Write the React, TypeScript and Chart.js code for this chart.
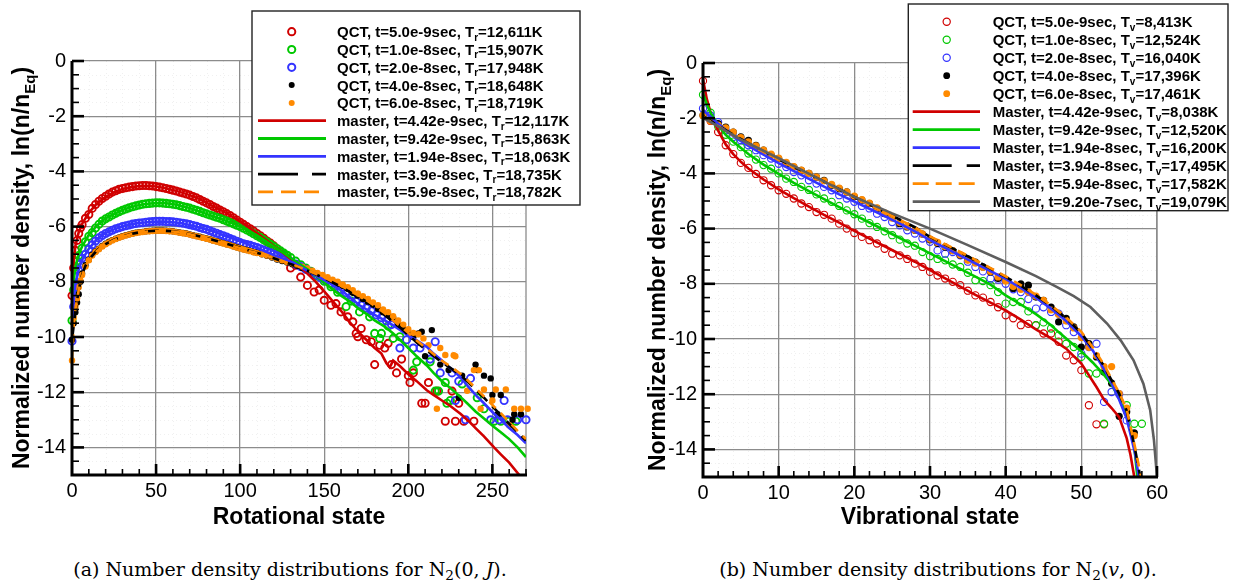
import React, { useEffect, useRef } from "react";
import { Chart, registerables } from "chart.js";

Chart.register(...registerables);

type P = [number, number][];

// ---------------- (a) Rotational state, N2(0,J) ----------------
const rotXTicks = [0, 50, 100, 150, 200, 250];
const yTicks = [-14, -12, -10, -8, -6, -4, -2, 0];
const vibXTicks = [0, 10, 20, 30, 40, 50, 60];

const rotQctRed: P = [[0,-8.5],[1,-7.5],[2,-6.86],[3,-6.5],[4,-6.25],[5,-6.05],[6,-5.93],[8,-5.7],[10,-5.56],[12,-5.34],[14,-5.2],[16,-5.08],[18,-4.98],[20,-4.9],[22,-4.82],[24,-4.75],[26,-4.7],[28,-4.65],[30,-4.62],[32,-4.59],[34,-4.57],[36,-4.55],[38,-4.53],[40,-4.52],[42,-4.51],[44,-4.51],[46,-4.52],[48,-4.53],[50,-4.55],[52,-4.57],[54,-4.59],[56,-4.62],[58,-4.65],[60,-4.68],[62,-4.71],[64,-4.75],[66,-4.78],[68,-4.82],[70,-4.86],[72,-4.91],[74,-4.96],[76,-5.02],[78,-5.08],[80,-5.14],[82,-5.2],[84,-5.27],[86,-5.33],[88,-5.4],[90,-5.46],[92,-5.53],[94,-5.6],[96,-5.68],[98,-5.76],[100,-5.84],[102,-5.92],[104,-6.0],[106,-6.08],[108,-6.16],[110,-6.25],[112,-6.33],[114,-6.42],[116,-6.52],[118,-6.6],[120,-6.7],[122,-6.8],[124,-6.9],[126,-7.0],[128,-7.15],[130,-7.5],[133,-7.4],[136,-7.83],[140,-8.13],[144,-8.37],[147,-8.3],[150,-8.67],[154,-8.85],[157,-8.79],[160,-9.09],[164,-9.27],[167,-9.45],[169,-9.87],[172,-9.69],[170,-9.99],[175,-10.1],[178,-10.17],[180,-11.0],[183,-10.3],[186,-10.4],[188,-10.23],[190,-11.0],[193,-11.3],[196,-10.8],[200,-11.4],[201,-11.65],[203,-11.3],[208,-12.4],[210,-12.4],[212,-11.65],[217,-11.96],[222,-13.05],[226,-11.96],[228,-13.05],[230,-12.4],[233,-13.05],[239,-13.05]];

const rotQctGreen: P = [[0,-9.4],[1,-8.3],[2,-7.46],[3,-7.25],[4,-7.05],[6,-6.78],[8,-6.55],[10,-6.35],[12,-6.22],[14,-6.05],[16,-5.92],[18,-5.8],[20,-5.72],[22,-5.65],[24,-5.58],[26,-5.52],[28,-5.46],[30,-5.41],[32,-5.36],[34,-5.32],[36,-5.28],[38,-5.25],[40,-5.22],[42,-5.19],[44,-5.17],[46,-5.16],[48,-5.15],[50,-5.14],[52,-5.14],[54,-5.15],[56,-5.16],[58,-5.17],[60,-5.19],[62,-5.21],[64,-5.24],[66,-5.27],[68,-5.3],[70,-5.33],[72,-5.37],[74,-5.41],[76,-5.45],[78,-5.5],[80,-5.54],[82,-5.58],[84,-5.62],[86,-5.66],[88,-5.7],[90,-5.75],[92,-5.8],[94,-5.85],[96,-5.9],[98,-5.95],[100,-6.0],[102,-6.06],[104,-6.12],[106,-6.19],[108,-6.26],[110,-6.33],[112,-6.4],[114,-6.48],[116,-6.56],[118,-6.64],[120,-6.72],[122,-6.8],[124,-6.88],[126,-6.96],[128,-7.04],[130,-7.12],[133,-7.25],[136,-7.38],[139,-7.5],[142,-7.62],[146,-7.8],[150,-7.98],[154,-8.18],[158,-8.38],[163,-8.9],[166,-8.7],[171,-9.09],[177,-9.27],[180,-9.87],[184,-9.87],[183,-10.05],[188,-9.6],[191,-10.05],[195,-9.99],[203,-11.2],[205,-10.9],[213,-10.9],[216,-11.96],[218,-11.96],[222,-11.65],[223,-12.4],[225,-12.3],[232,-11.7],[241,-12.2],[245,-12.6],[251,-13.05],[255,-13.05],[260,-13.05],[264,-13.05]];

const rotQctBlue: P = [[0,-10.15],[1,-8.9],[2,-8.2],[3,-7.8],[4,-7.6],[5,-7.35],[6,-7.15],[8,-7.0],[10,-6.82],[12,-6.66],[14,-6.52],[16,-6.41],[18,-6.32],[20,-6.25],[22,-6.19],[24,-6.13],[26,-6.08],[28,-6.04],[30,-6.0],[32,-5.97],[34,-5.94],[36,-5.91],[38,-5.89],[40,-5.87],[42,-5.86],[44,-5.84],[46,-5.83],[48,-5.82],[50,-5.81],[52,-5.81],[54,-5.81],[56,-5.82],[58,-5.82],[60,-5.83],[62,-5.84],[64,-5.86],[66,-5.88],[68,-5.9],[70,-5.93],[72,-5.96],[74,-5.99],[76,-6.03],[78,-6.07],[80,-6.1],[82,-6.15],[84,-6.2],[86,-6.24],[88,-6.29],[90,-6.33],[92,-6.38],[94,-6.43],[96,-6.48],[98,-6.53],[100,-6.58],[102,-6.62],[104,-6.65],[106,-6.68],[108,-6.72],[110,-6.76],[112,-6.8],[114,-6.85],[116,-6.9],[118,-6.95],[120,-7.0],[122,-7.06],[124,-7.12],[126,-7.18],[128,-7.23],[130,-7.27],[133,-7.36],[136,-7.45],[139,-7.55],[142,-7.65],[145,-7.75],[148,-7.85],[151,-7.95],[154,-8.05],[157,-8.15],[160,-8.28],[163,-8.4],[166,-8.55],[169,-8.72],[172,-8.85],[175,-8.95],[178,-9.05],[181,-9.2],[184,-9.3],[187,-9.42],[190,-9.55],[195,-10.4],[199,-10.1],[203,-10.4],[207,-10.4],[213,-10.8],[216,-10.17],[219,-11.3],[226,-11.3],[228,-12.3],[230,-11.6],[234,-13.0],[237,-11.5],[249,-13.0],[254,-13.0],[257,-12.3],[259,-13.0],[265,-13.0],[270,-13.0]];

const rotQctBlack: P = [[0,-10.1],[1,-9.5],[2,-9.1],[3,-8.75],[4,-8.45],[5,-8.0],[6,-7.7],[8,-7.4],[10,-7.2],[12,-7.02],[14,-6.9],[16,-6.8],[18,-6.7],[20,-6.62],[22,-6.55],[24,-6.49],[26,-6.44],[28,-6.39],[30,-6.35],[32,-6.31],[34,-6.28],[36,-6.25],[38,-6.22],[40,-6.2],[42,-6.19],[44,-6.17],[46,-6.16],[48,-6.15],[50,-6.14],[52,-6.14],[54,-6.14],[56,-6.15],[58,-6.16],[60,-6.17],[62,-6.19],[64,-6.21],[66,-6.23],[68,-6.25],[70,-6.28],[72,-6.31],[74,-6.34],[76,-6.37],[78,-6.4],[80,-6.43],[82,-6.46],[84,-6.5],[86,-6.53],[88,-6.57],[90,-6.6],[92,-6.64],[94,-6.67],[96,-6.71],[98,-6.75],[100,-6.78],[102,-6.82],[104,-6.85],[106,-6.88],[108,-6.92],[110,-6.95],[113,-7.0],[116,-7.06],[119,-7.12],[122,-7.19],[125,-7.25],[128,-7.3],[131,-7.36],[134,-7.42],[137,-7.5],[140,-7.57],[143,-7.65],[146,-7.73],[149,-7.82],[152,-7.9],[155,-7.98],[158,-8.07],[161,-8.15],[164,-8.25],[167,-8.4],[170,-8.5],[173,-8.62],[176,-8.72],[179,-8.82],[182,-8.98],[185,-9.1],[188,-9.2],[191,-9.3],[194,-9.55],[197,-9.7],[200,-9.85],[203,-10.0],[206,-9.87],[208,-9.81],[210,-10.7],[214,-9.75],[219,-11.0],[224,-11.2],[230,-12.2],[232,-11.4],[240,-11.0],[241,-11.2],[245,-11.4],[249,-11.5],[250,-12.1],[253,-12.8],[255,-12.1],[262,-13.0],[263,-12.8],[267,-12.8]];

const rotQctOrange: P = [[0,-10.85],[1,-9.3],[2,-8.9],[3,-8.6],[4,-8.2],[5,-7.95],[6,-7.75],[8,-7.45],[10,-7.22],[12,-7.05],[14,-6.92],[16,-6.82],[18,-6.72],[20,-6.64],[22,-6.57],[24,-6.5],[26,-6.45],[28,-6.4],[30,-6.36],[32,-6.32],[34,-6.29],[36,-6.26],[38,-6.23],[40,-6.21],[42,-6.2],[44,-6.18],[46,-6.17],[48,-6.16],[50,-6.15],[52,-6.15],[54,-6.15],[56,-6.16],[58,-6.17],[60,-6.18],[62,-6.2],[64,-6.22],[66,-6.24],[68,-6.26],[70,-6.29],[72,-6.32],[74,-6.35],[76,-6.38],[78,-6.41],[80,-6.44],[82,-6.47],[84,-6.51],[86,-6.54],[88,-6.58],[90,-6.61],[92,-6.65],[94,-6.68],[96,-6.72],[98,-6.76],[100,-6.79],[102,-6.83],[104,-6.86],[106,-6.89],[108,-6.93],[110,-6.96],[113,-7.0],[116,-7.05],[119,-7.1],[122,-7.17],[125,-7.22],[128,-7.28],[131,-7.33],[134,-7.38],[137,-7.45],[140,-7.52],[143,-7.6],[146,-7.68],[149,-7.75],[152,-7.83],[155,-7.92],[158,-8.0],[161,-8.1],[164,-8.2],[167,-8.3],[170,-8.42],[173,-8.52],[176,-8.62],[179,-8.75],[182,-8.85],[185,-9.0],[188,-9.1],[191,-9.25],[194,-9.4],[197,-9.55],[200,-9.72],[203,-9.85],[206,-9.9],[209,-10.05],[212,-10.3],[217,-12.6],[219,-10.4],[222,-10.65],[227,-10.66],[228,-10.7],[235,-11.95],[239,-11.2],[242,-11.2],[243,-12.6],[245,-11.9],[250,-12.3],[252,-11.9],[258,-11.9],[260,-13.2],[263,-12.6],[267,-12.6],[271,-12.6]];

const rotMasterRed: P = [[0,-8.5],[1,-7.3],[2,-6.7],[4,-6.2],[6,-5.9],[10,-5.5],[15,-5.15],[20,-4.92],[25,-4.75],[30,-4.64],[35,-4.57],[40,-4.53],[45,-4.52],[50,-4.55],[55,-4.6],[60,-4.67],[65,-4.76],[70,-4.86],[75,-4.98],[80,-5.13],[85,-5.3],[90,-5.45],[95,-5.63],[100,-5.82],[105,-6.02],[110,-6.24],[115,-6.47],[120,-6.7],[125,-6.93],[130,-7.17],[135,-7.42],[140,-7.7],[145,-8.0],[150,-8.35],[155,-8.7],[160,-9.05],[165,-9.45],[170,-9.8],[175,-10.1],[180,-10.4],[184,-10.6],[187,-10.95],[189,-11.1],[191,-10.85],[195,-11.05],[200,-11.35],[205,-11.6],[211,-11.93],[215,-12.1],[220,-12.3],[225,-12.5],[231,-12.78],[236,-13.05],[240,-13.3],[245,-13.6],[251,-14.0],[255,-14.25],[260,-14.55],[266,-15.0],[270,-15.3]];

const rotMasterGreen: P = [[0,-9.4],[1,-8.0],[2,-7.45],[4,-7.0],[6,-6.72],[10,-6.3],[15,-5.95],[20,-5.7],[25,-5.55],[30,-5.4],[35,-5.3],[40,-5.22],[45,-5.17],[50,-5.15],[55,-5.15],[60,-5.18],[65,-5.25],[70,-5.33],[75,-5.43],[80,-5.54],[85,-5.64],[90,-5.75],[95,-5.87],[100,-6.0],[105,-6.15],[110,-6.32],[115,-6.52],[120,-6.72],[125,-6.92],[132,-7.22],[140,-7.55],[146,-7.83],[152,-8.13],[160,-8.5],[166,-8.75],[171,-9.0],[176,-9.2],[180,-9.4],[186,-9.62],[191,-9.87],[195,-10.1],[200,-10.4],[205,-10.7],[211,-11.03],[215,-11.3],[220,-11.6],[225,-11.85],[231,-12.17],[235,-12.4],[240,-12.7],[245,-12.95],[251,-13.26],[255,-13.45],[260,-13.7],[265,-14.0],[270,-14.35]];

const rotMasterBlue: P = [[0,-10.15],[1,-8.7],[2,-8.1],[4,-7.55],[6,-7.2],[10,-6.8],[15,-6.45],[20,-6.23],[25,-6.1],[30,-6.0],[35,-5.92],[40,-5.87],[45,-5.84],[50,-5.82],[55,-5.82],[60,-5.84],[65,-5.88],[70,-5.94],[75,-6.02],[80,-6.1],[85,-6.2],[90,-6.31],[95,-6.42],[100,-6.53],[105,-6.65],[112,-6.82],[120,-7.03],[126,-7.17],[132,-7.32],[140,-7.6],[146,-7.8],[152,-8.0],[160,-8.3],[165,-8.55],[171,-8.85],[176,-9.03],[180,-9.2],[186,-9.4],[191,-9.58],[196,-9.78],[200,-9.95],[205,-10.12],[211,-10.36],[215,-10.6],[220,-10.85],[225,-11.13],[231,-11.45],[235,-11.75],[240,-12.1],[245,-12.4],[251,-12.78],[255,-13.0],[260,-13.3],[265,-13.55],[270,-13.85]];

const rotMasterBlack: P = [[0,-10.1],[1,-9.6],[2,-9.1],[4,-8.3],[6,-7.75],[8,-7.42],[10,-7.2],[15,-6.85],[20,-6.63],[25,-6.47],[30,-6.36],[35,-6.27],[40,-6.21],[45,-6.17],[50,-6.15],[55,-6.15],[60,-6.17],[65,-6.21],[70,-6.27],[75,-6.34],[80,-6.42],[85,-6.5],[90,-6.59],[95,-6.68],[100,-6.77],[106,-6.88],[112,-6.98],[120,-7.15],[126,-7.28],[132,-7.4],[140,-7.6],[146,-7.76],[152,-7.93],[160,-8.18],[166,-8.4],[171,-8.57],[176,-8.75],[180,-8.92],[186,-9.2],[191,-9.46],[196,-9.7],[200,-9.92],[205,-10.2],[211,-10.48],[215,-10.68],[220,-10.92],[225,-11.12],[231,-11.38],[235,-11.6],[240,-11.9],[245,-12.2],[251,-12.58],[255,-12.82],[260,-13.15],[265,-13.45],[270,-13.75]];

const rotMasterOrange: P = [[0,-10.8],[1,-9.6],[2,-9.0],[4,-8.3],[6,-7.8],[8,-7.45],[10,-7.22],[15,-6.87],[20,-6.65],[25,-6.49],[30,-6.37],[35,-6.28],[40,-6.22],[45,-6.18],[50,-6.16],[55,-6.16],[60,-6.18],[65,-6.22],[70,-6.28],[75,-6.35],[80,-6.43],[85,-6.51],[90,-6.6],[95,-6.69],[100,-6.78],[106,-6.89],[112,-6.99],[120,-7.14],[126,-7.27],[132,-7.39],[140,-7.58],[146,-7.74],[152,-7.9],[160,-8.14],[166,-8.35],[171,-8.52],[176,-8.7],[180,-8.87],[186,-9.14],[191,-9.4],[196,-9.64],[200,-9.85],[205,-10.13],[211,-10.42],[215,-10.62],[220,-10.86],[225,-11.06],[231,-11.33],[235,-11.55],[240,-11.85],[245,-12.15],[251,-12.52],[255,-12.76],[260,-13.08],[265,-13.4],[270,-13.7]];

// ---------------- (b) Vibrational state, N2(v,0) ----------------
const vibQctRed: P = [[0,-0.65],[1,-2.1],[2,-2.5],[3,-2.98],[4,-3.3],[5,-3.62],[6,-3.8],[7,-4.02],[8,-4.25],[9,-4.43],[10,-4.61],[11,-4.74],[12,-4.91],[13,-5.09],[14,-5.22],[15,-5.4],[16,-5.5],[17,-5.64],[18,-5.82],[19,-6.0],[20,-6.16],[21,-6.3],[22,-6.42],[23,-6.54],[24,-6.73],[25,-6.91],[26,-6.97],[27,-7.1],[28,-7.27],[29,-7.39],[30,-7.57],[31,-7.7],[32,-7.81],[33,-7.93],[34,-8.05],[35,-8.25],[36,-8.42],[37,-8.5],[38,-8.66],[39,-8.85],[40,-9.14],[41,-9.25],[42,-9.5],[43,-9.45],[44,-9.5],[45,-9.8],[46,-9.8],[47,-10.1],[48,-10.6],[49,-10.77],[50,-11.13],[51,-12.4],[52,-13.09],[53,-13.09]];

const vibQctGreen: P = [[0,-1.15],[1,-1.8],[2,-2.3],[3,-2.6],[4,-2.85],[5,-3.05],[6,-3.28],[7,-3.5],[8,-3.7],[9,-3.83],[10,-4.0],[11,-4.19],[12,-4.31],[13,-4.49],[14,-4.6],[15,-4.76],[16,-4.91],[17,-5.03],[18,-5.18],[19,-5.34],[20,-5.48],[21,-5.64],[22,-5.8],[23,-5.94],[24,-6.1],[25,-6.24],[26,-6.4],[27,-6.54],[28,-6.62],[29,-6.85],[30,-7.0],[31,-7.1],[32,-7.15],[33,-7.3],[34,-7.39],[35,-7.6],[36,-7.87],[37,-7.9],[38,-8.05],[39,-8.3],[40,-8.72],[41,-8.66],[42,-8.66],[43,-9.0],[44,-9.5],[45,-9.4],[46,-9.62],[47,-9.87],[48,-10.17],[49,-10.29],[50,-10.65],[51,-11.25],[52,-11.25],[53,-13.07],[56,-12.4],[57,-13.07],[58,-13.07]];

const vibQctBlue: P = [[0,-1.65],[1,-1.9],[2,-2.14],[3,-2.44],[4,-2.68],[5,-2.8],[6,-2.98],[7,-3.16],[8,-3.34],[9,-3.46],[10,-3.65],[11,-3.77],[12,-3.95],[13,-4.07],[14,-4.25],[15,-4.37],[16,-4.49],[17,-4.61],[18,-4.79],[19,-4.91],[20,-5.03],[21,-5.18],[22,-5.27],[23,-5.46],[24,-5.58],[25,-5.76],[26,-5.88],[27,-6.06],[28,-6.18],[29,-6.36],[30,-6.48],[31,-6.79],[32,-6.91],[33,-6.85],[34,-6.97],[35,-7.2],[36,-7.39],[37,-7.55],[38,-7.81],[39,-7.85],[40,-8.0],[41,-8.2],[42,-8.3],[43,-8.55],[44,-8.9],[45,-8.85],[46,-9.02],[47,-9.08],[48,-9.5],[49,-9.75],[50,-10.53],[51,-10.29],[52,-10.17],[53,-12.28],[54,-11.92],[55,-12.0],[56,-12.95]];

const vibQctBlack: P = [[0,-1.9],[1,-2.05],[2,-2.2],[3,-2.32],[4,-2.5],[5,-2.68],[6,-2.8],[7,-2.98],[8,-3.16],[9,-3.34],[10,-3.46],[11,-3.65],[12,-3.77],[13,-3.89],[14,-4.0],[15,-4.13],[16,-4.25],[17,-4.43],[18,-4.55],[19,-4.67],[20,-4.85],[21,-4.97],[22,-5.09],[23,-5.27],[24,-5.46],[25,-5.6],[26,-5.82],[27,-5.94],[28,-6.06],[29,-6.2],[30,-6.4],[31,-6.54],[32,-6.67],[33,-6.8],[34,-6.97],[35,-7.1],[36,-7.21],[37,-7.39],[38,-7.57],[39,-7.81],[40,-7.87],[41,-8.17],[42,-8.0],[43,-8.05],[44,-8.48],[45,-8.6],[46,-8.84],[47,-9.38],[48,-9.25],[49,-9.56],[50,-10.29],[51,-10.17],[52,-10.65],[53,-11.2],[54,-11.6],[55,-12.8],[56,-12.64],[57,-13.4]];

const vibQctOrange: P = [[0,-1.9],[1,-2.1],[2,-2.25],[3,-2.35],[4,-2.5],[5,-2.7],[6,-2.86],[7,-3.0],[8,-3.16],[9,-3.3],[10,-3.45],[11,-3.6],[12,-3.75],[13,-3.88],[14,-4.0],[15,-4.13],[16,-4.27],[17,-4.4],[18,-4.53],[19,-4.67],[20,-4.82],[21,-4.95],[22,-5.08],[23,-5.25],[24,-5.43],[25,-5.62],[26,-5.78],[27,-5.92],[28,-6.05],[29,-6.2],[30,-6.38],[31,-6.5],[32,-6.65],[33,-6.8],[34,-6.95],[35,-7.15],[36,-7.25],[37,-7.4],[38,-7.55],[39,-7.75],[40,-7.9],[41,-8.1],[42,-8.2],[43,-8.3],[44,-8.45],[45,-8.6],[46,-8.95],[47,-9.1],[48,-9.35],[49,-9.6],[50,-9.95],[51,-10.3],[52,-10.6],[53,-11.0],[54,-11.0],[55,-11.98],[56,-12.5],[57,-13.5]];

const vibMasterRed: P = [[0,-0.6],[0.5,-1.3],[1,-1.8],[1.5,-2.15],[2,-2.45],[3,-2.95],[4,-3.3],[5,-3.58],[6,-3.82],[8,-4.22],[10,-4.58],[12,-4.9],[14,-5.2],[16,-5.5],[18,-5.78],[20,-6.08],[22,-6.36],[24,-6.64],[26,-6.92],[28,-7.2],[30,-7.5],[32,-7.8],[34,-8.1],[36,-8.4],[38,-8.68],[40,-8.96],[42,-9.3],[44,-9.65],[46,-9.98],[48,-10.35],[50,-10.89],[52,-11.74],[53,-12.2],[54,-12.5],[55,-12.83],[56,-13.6],[56.5,-14.2],[57,-15.0]];

const vibMasterGreen: P = [[0,-1.1],[0.5,-1.5],[1,-1.8],[2,-2.25],[3,-2.6],[4,-2.85],[6,-3.3],[8,-3.68],[10,-4.02],[12,-4.34],[14,-4.64],[16,-4.93],[18,-5.22],[20,-5.5],[22,-5.78],[24,-6.06],[26,-6.34],[28,-6.62],[30,-6.9],[32,-7.18],[34,-7.46],[36,-7.74],[38,-8.03],[40,-8.42],[42,-8.75],[44,-9.1],[46,-9.5],[47,-9.75],[48,-9.98],[50,-10.45],[51.5,-10.85],[53,-11.3],[54,-11.65],[55,-12.15],[56,-12.83],[57,-13.9],[57.4,-15.0]];

const vibMasterBlue: P = [[0,-1.7],[1,-1.95],[2,-2.2],[4,-2.65],[6,-3.0],[8,-3.32],[10,-3.63],[12,-3.92],[14,-4.2],[16,-4.48],[18,-4.76],[20,-5.02],[22,-5.28],[24,-5.55],[26,-5.82],[28,-6.1],[30,-6.42],[32,-6.7],[34,-6.98],[36,-7.26],[38,-7.54],[40,-7.82],[42,-8.15],[44,-8.5],[46,-8.9],[47.1,-9.14],[48,-9.35],[50,-9.9],[51.5,-10.41],[53,-11.1],[54,-11.6],[55,-12.2],[56,-12.88],[57.1,-14.15],[57.6,-15.0]];

const vibMasterBlack: P = [[0,-1.92],[1,-2.1],[2,-2.27],[4,-2.6],[6,-2.9],[8,-3.2],[10,-3.48],[12,-3.76],[14,-4.03],[16,-4.3],[18,-4.57],[20,-4.85],[22,-5.12],[24,-5.4],[26,-5.67],[28,-5.95],[30,-6.3],[32,-6.58],[34,-6.86],[36,-7.15],[38,-7.45],[40,-7.75],[42,-8.07],[44,-8.42],[46,-8.8],[47.1,-9.05],[48,-9.25],[50,-9.78],[51.5,-10.35],[53,-10.98],[53.7,-11.35],[55,-11.98],[56,-12.6],[57,-13.85],[57.8,-15.0]];

const vibMasterOrange: P = [[0,-1.95],[1,-2.12],[2,-2.29],[4,-2.62],[6,-2.92],[8,-3.22],[10,-3.5],[12,-3.78],[14,-4.05],[16,-4.32],[18,-4.59],[20,-4.86],[22,-5.13],[24,-5.41],[26,-5.68],[28,-5.96],[30,-6.28],[32,-6.56],[34,-6.84],[36,-7.13],[38,-7.43],[40,-7.73],[42,-8.05],[44,-8.4],[46,-8.78],[48,-9.22],[50,-9.74],[51.5,-10.3],[53,-10.93],[54,-11.45],[55,-11.95],[56,-12.55],[57,-13.8],[57.9,-15.0]];

const vibMasterGrey: P = [[0,-1.98],[5,-2.78],[10,-3.45],[15,-4.15],[20,-4.85],[25,-5.45],[30,-6.0],[35,-6.6],[40,-7.21],[44,-7.72],[46.8,-8.12],[49,-8.45],[51.2,-8.84],[53.4,-9.44],[55.2,-10.05],[56.9,-10.77],[58.2,-11.62],[59.1,-12.58],[59.6,-13.67],[60,-15.0]];

// ---------------- legend text ----------------
const rotLegendPre = ["QCT, t=5.0e-9sec, T","QCT, t=1.0e-8sec, T","QCT, t=2.0e-8sec, T","QCT, t=4.0e-8sec, T","QCT, t=6.0e-8sec, T","master, t=4.42e-9sec, T","master, t=9.42e-9sec, T","master, t=1.94e-8sec, T","master, t=3.9e-8sec, T","master, t=5.9e-8sec, T"];
const rotLegendPost = ["=12,611K","=15,907K","=17,948K","=18,648K","=18,719K","=12,117K","=15,863K","=18,063K","=18,735K","=18,782K"];
const vibLegendPre = ["QCT, t=5.0e-9sec, T","QCT, t=1.0e-8sec, T","QCT, t=2.0e-8sec, T","QCT, t=4.0e-8sec, T","QCT, t=6.0e-8sec, T","Master, t=4.42e-9sec, T","Master, t=9.42e-9sec, T","Master, t=1.94e-8sec, T","Master, t=3.94e-8sec, T","Master, t=5.94e-8sec, T","Master, t=9.20e-7sec, T"];
const vibLegendPost = ["=8,413K","=12,524K","=16,040K","=17,396K","=17,461K","=8,038K","=12,520K","=16,200K","=17,495K","=17,582K","=19,079K"];

// ---------------- styling ----------------
const RED = "#d00000";
const GREEN = "#00c800";
const BLUE = "#3434ff";
const BLACK = "#000000";
const ORANGE = "#ff8a00";
const GREY = "#5e5e5e";
const GRIDC = "#8c8c8c";
const SANS = '"Liberation Sans", Arial, Helvetica, sans-serif';

Chart.defaults.font.family = SANS;

const pts = (p: P) => p.map(([x, y]) => ({ x, y }));

function qct(p: P, color: string, filled: boolean, r: number, bw: number, order: number) {
  return {
    data: pts(p),
    showLine: false,
    pointRadius: r,
    pointBorderWidth: filled ? 0 : bw,
    pointBorderColor: color,
    pointBackgroundColor: filled ? color : "rgba(0,0,0,0)",
    pointStyle: "circle",
    clip: false,
    order,
  };
}

function master(p: P, color: string, dash: number[], order: number) {
  return {
    data: pts(p),
    showLine: true,
    borderColor: color,
    borderWidth: 2.6,
    borderDash: dash,
    pointRadius: 0,
    tension: 0,
    fill: false,
    order,
  };
}

type Item = { kind: string; color: string; r?: number; lw?: number; dash?: number[] };

function drawLegend(ctx: CanvasRenderingContext2D, L: any) {
  ctx.save();
  ctx.fillStyle = "#fff";
  ctx.fillRect(L.x, L.y, L.w, L.h);
  ctx.strokeStyle = "#222";
  ctx.lineWidth = 1.4;
  ctx.strokeRect(L.x, L.y, L.w, L.h);
  L.items.forEach((it: Item, i: number) => {
    const cy = L.y0 + i * L.dy;
    if (it.kind === "line") {
      ctx.beginPath();
      ctx.setLineDash(it.dash || []);
      ctx.strokeStyle = it.color;
      ctx.lineWidth = 2.8;
      ctx.moveTo(L.l0, cy);
      ctx.lineTo(L.l1, cy);
      ctx.stroke();
      ctx.setLineDash([]);
    } else if (it.kind === "open") {
      ctx.beginPath();
      ctx.arc(L.mx, cy, it.r || 3.5, 0, Math.PI * 2);
      ctx.strokeStyle = it.color;
      ctx.lineWidth = it.lw || 1.5;
      ctx.stroke();
    } else {
      ctx.beginPath();
      ctx.arc(L.mx, cy, it.r || 3, 0, Math.PI * 2);
      ctx.fillStyle = it.color;
      ctx.fill();
    }
    ctx.fillStyle = "#000";
    ctx.textAlign = "left";
    ctx.textBaseline = "alphabetic";
    const base = cy + 5.4;
    ctx.font = `bold 15px ${SANS}`;
    ctx.fillText(L.pre[i], L.tx, base);
    let w = ctx.measureText(L.pre[i]).width;
    ctx.font = `bold 10px ${SANS}`;
    ctx.fillText(L.sub, L.tx + w, base + 3.5);
    w += ctx.measureText(L.sub).width;
    ctx.font = `bold 15px ${SANS}`;
    ctx.fillText(L.post[i], L.tx + w, base);
  });
  ctx.restore();
}

function decorPlugin(cfg: any) {
  return {
    id: "decor",
    beforeDatasetsDraw(chart: any) {
      const { ctx, chartArea: a, scales } = chart;
      const x = scales.x;
      const y = scales.y;
      ctx.save();
      // very faint dotted minor grid
      ctx.strokeStyle = "rgba(0,0,0,0.06)";
      ctx.lineWidth = 1;
      ctx.setLineDash([1, 3]);
      for (let v = cfg.xMinor; v < cfg.xMax; v += cfg.xMinor) {
        if (Math.abs(v % cfg.xMajor) < 1e-6) continue;
        const px = Math.round(x.getPixelForValue(v)) + 0.5;
        ctx.beginPath();
        ctx.moveTo(px, a.top);
        ctx.lineTo(px, a.bottom);
        ctx.stroke();
      }
      for (let v = -14.5; v < 0; v += 0.5) {
        if (Math.abs(v % 2) < 1e-6) continue;
        const py = Math.round(y.getPixelForValue(v)) + 0.5;
        ctx.beginPath();
        ctx.moveTo(a.left, py);
        ctx.lineTo(a.right, py);
        ctx.stroke();
      }
      ctx.setLineDash([]);
      // right frame (grid coloured)
      ctx.strokeStyle = GRIDC;
      ctx.lineWidth = 1.3;
      ctx.beginPath();
      ctx.moveTo(a.right, a.top);
      ctx.lineTo(a.right, a.bottom);
      ctx.stroke();
      ctx.restore();
    },
    afterDatasetsDraw(chart: any) {
      const { ctx, chartArea: a, scales } = chart;
      const x = scales.x;
      const y = scales.y;
      ctx.save();
      // axes
      ctx.strokeStyle = "#000";
      ctx.lineWidth = 3;
      ctx.beginPath();
      ctx.moveTo(a.left, a.top);
      ctx.lineTo(a.left, a.bottom + 1.5);
      ctx.moveTo(a.left - 1.5, a.bottom);
      ctx.lineTo(a.right + 1, a.bottom);
      ctx.stroke();
      // inward ticks, x
      for (let v = cfg.xMinor; v <= cfg.xMax + 1e-6; v += cfg.xMinor) {
        const major = Math.abs(v % cfg.xMajor) < 1e-6;
        const px = x.getPixelForValue(v);
        ctx.lineWidth = major ? 2.6 : 1.6;
        ctx.beginPath();
        ctx.moveTo(px, a.bottom);
        ctx.lineTo(px, a.bottom - (major ? 11 : 6));
        ctx.stroke();
      }
      // inward ticks, y
      for (let v = -14.5; v <= 0.0001; v += 0.5) {
        const major = Math.abs(v % 2) < 1e-6;
        const py = y.getPixelForValue(v);
        ctx.lineWidth = major ? 2.6 : 1.6;
        ctx.beginPath();
        ctx.moveTo(a.left, py);
        ctx.lineTo(a.left + (major ? 12 : 7), py);
        ctx.stroke();
      }
      // x title
      ctx.fillStyle = "#000";
      ctx.font = `bold 23px ${SANS}`;
      ctx.textAlign = "center";
      ctx.textBaseline = "alphabetic";
      ctx.fillText(cfg.xTitle, cfg.xTitleX, cfg.xTitleY);
      // y title (rotated, with subscript)
      const pre = "Normalized number density, ln(n/n";
      const sub = "Eq";
      const post = ")";
      ctx.translate(cfg.yTitleX, cfg.yTitleY);
      ctx.rotate(-Math.PI / 2);
      ctx.font = `bold 23px ${SANS}`;
      const w1 = ctx.measureText(pre).width;
      const w3 = ctx.measureText(post).width;
      ctx.font = `bold 15px ${SANS}`;
      const w2 = ctx.measureText(sub).width;
      const start = -(w1 + w2 + w3) / 2;
      ctx.textAlign = "left";
      ctx.font = `bold 23px ${SANS}`;
      ctx.fillText(pre, start, 0);
      ctx.font = `bold 15px ${SANS}`;
      ctx.fillText(sub, start + w1, 6);
      ctx.font = `bold 23px ${SANS}`;
      ctx.fillText(post, start + w1 + w2, 0);
      ctx.restore();
      drawLegend(ctx, cfg.legend);
    },
  };
}

function makeConfig(cfg: any) {
  const tickFont = { family: SANS, size: 20 };
  return {
    type: "scatter",
    data: { datasets: cfg.datasets },
    plugins: [decorPlugin(cfg)],
    options: {
      responsive: false,
      maintainAspectRatio: false,
      animation: false,
      events: [],
      layout: { padding: cfg.padding },
      plugins: { legend: { display: false }, tooltip: { enabled: false } },
      scales: {
        x: {
          type: "linear",
          min: 0,
          max: cfg.xMax,
          afterBuildTicks: (s: any) => {
            s.ticks = cfg.xTicks.map((v: number) => ({ value: v }));
          },
          afterFit: (s: any) => {
            s.height = 40;
          },
          grid: { color: GRIDC, lineWidth: 1.3, drawTicks: false },
          border: { display: false },
          ticks: { font: tickFont, color: "#000", padding: 4, maxRotation: 0, minRotation: 0, autoSkip: false },
        },
        y: {
          type: "linear",
          min: -15,
          max: 0,
          afterBuildTicks: (s: any) => {
            s.ticks = yTicks.map((v: number) => ({ value: v }));
          },
          afterFit: (s: any) => {
            s.width = cfg.yAxisW;
          },
          grid: { color: GRIDC, lineWidth: 1.3, drawTicks: false },
          border: { display: false },
          ticks: { font: tickFont, color: "#000", padding: 6, autoSkip: false },
        },
      },
    },
  };
}

const rotCfg = {
  datasets: [
    qct(rotQctRed, RED, false, 3.6, 1.9, 30),
    qct(rotQctGreen, GREEN, false, 3.6, 1.9, 29),
    qct(rotQctBlue, BLUE, false, 3.6, 1.9, 28),
    qct(rotQctBlack, BLACK, true, 3.2, 0, 27),
    qct(rotQctOrange, ORANGE, true, 3.2, 0, 26),
    master(rotMasterRed, RED, [], 10),
    master(rotMasterGreen, GREEN, [], 9),
    master(rotMasterBlue, BLUE, [], 8),
    master(rotMasterBlack, BLACK, [14, 7], 7),
    master(rotMasterOrange, ORANGE, [9, 7], 6),
  ],
  xMax: 270,
  xTicks: rotXTicks,
  xMajor: 50,
  xMinor: 10,
  padding: { left: 0, top: 61, right: 92, bottom: 25 },
  yAxisW: 72,
  xTitle: "Rotational state",
  xTitleX: 299,
  xTitleY: 524,
  yTitleX: 29,
  yTitleY: 268,
  legend: {
    x: 252, y: 11, w: 328, h: 194, y0: 31.7, dy: 17.8, mx: 291.7, l0: 258, l1: 326, tx: 337,
    sub: "r", pre: rotLegendPre, post: rotLegendPost,
    items: [
      { kind: "open", color: RED, r: 3.6, lw: 2 },
      { kind: "open", color: GREEN, r: 3.6, lw: 2 },
      { kind: "open", color: BLUE, r: 3.6, lw: 2 },
      { kind: "dot", color: BLACK, r: 3 },
      { kind: "dot", color: ORANGE, r: 3 },
      { kind: "line", color: RED },
      { kind: "line", color: GREEN },
      { kind: "line", color: BLUE },
      { kind: "line", color: BLACK, dash: [40, 14] },
      { kind: "line", color: ORANGE, dash: [15, 8] },
    ],
  },
};

const vibCfg = {
  datasets: [
    qct(vibQctRed, RED, false, 3.6, 1.1, 30),
    qct(vibQctGreen, GREEN, false, 3.6, 1.1, 29),
    qct(vibQctBlue, BLUE, false, 3.6, 1.1, 28),
    qct(vibQctBlack, BLACK, true, 3.6, 0, 27),
    qct(vibQctOrange, ORANGE, true, 3.6, 0, 26),
    master(vibMasterRed, RED, [], 11),
    master(vibMasterGreen, GREEN, [], 10),
    master(vibMasterBlue, BLUE, [], 9),
    master(vibMasterBlack, BLACK, [14, 7], 8),
    master(vibMasterOrange, ORANGE, [9, 7], 7),
    master(vibMasterGrey, GREY, [], 6),
  ],
  xMax: 60,
  xTicks: vibXTicks,
  xMajor: 10,
  xMinor: 2,
  padding: { left: 0, top: 63, right: 79, bottom: 23 },
  yAxisW: 85,
  xTitle: "Vibrational state",
  xTitleX: 312,
  xTitleY: 524,
  yTitleX: 47,
  yTitleY: 270,
  legend: {
    x: 290.3, y: 4, w: 319.7, h: 206.7, y0: 21.7, dy: 18, mx: 328.7, l0: 294.7, l1: 362, tx: 374.7,
    sub: "v", pre: vibLegendPre, post: vibLegendPost,
    items: [
      { kind: "open", color: RED, r: 3.6, lw: 1.2 },
      { kind: "open", color: GREEN, r: 3.6, lw: 1.2 },
      { kind: "open", color: BLUE, r: 3.6, lw: 1.2 },
      { kind: "dot", color: BLACK, r: 3.4 },
      { kind: "dot", color: ORANGE, r: 3.4 },
      { kind: "line", color: RED },
      { kind: "line", color: GREEN },
      { kind: "line", color: BLUE },
      { kind: "line", color: BLACK, dash: [39, 15] },
      { kind: "line", color: ORANGE, dash: [16, 7] },
      { kind: "line", color: GREY },
    ],
  },
};

const capStyle = (cx: number): React.CSSProperties => ({
  position: "absolute",
  left: cx - 320,
  width: 640,
  top: 560,
  textAlign: "center",
  fontFamily: '"DejaVu Serif", serif',
  fontSize: 19,
  lineHeight: "19px",
  color: "#000",
  whiteSpace: "nowrap",
});

const subStyle: React.CSSProperties = { fontSize: "0.72em", verticalAlign: "-0.3em", lineHeight: 0 };

export default function App() {
  const refA = useRef<HTMLCanvasElement>(null);
  const refB = useRef<HTMLCanvasElement>(null);

  useEffect(() => {
    const a = new Chart(refA.current as HTMLCanvasElement, makeConfig(rotCfg) as any);
    const b = new Chart(refB.current as HTMLCanvasElement, makeConfig(vibCfg) as any);
    return () => {
      a.destroy();
      b.destroy();
    };
  }, []);

  return (
    <div style={{ position: "absolute", left: 0, top: 0, width: 1236, height: 581, background: "#fff", overflow: "hidden" }}>
      <canvas ref={refA} width={618} height={540} style={{ position: "absolute", left: 0, top: 0, width: 618, height: 540 }} />
      <canvas ref={refB} width={618} height={540} style={{ position: "absolute", left: 618, top: 0, width: 618, height: 540 }} />
      <div style={capStyle(290)}>
        (a) Number density distributions for N<sub style={subStyle}>2</sub>(0, <i>J</i>).
      </div>
      <div style={capStyle(938)}>
        (b) Number density distributions for N<sub style={subStyle}>2</sub>(<i>v</i>, 0).
      </div>
    </div>
  );
}
